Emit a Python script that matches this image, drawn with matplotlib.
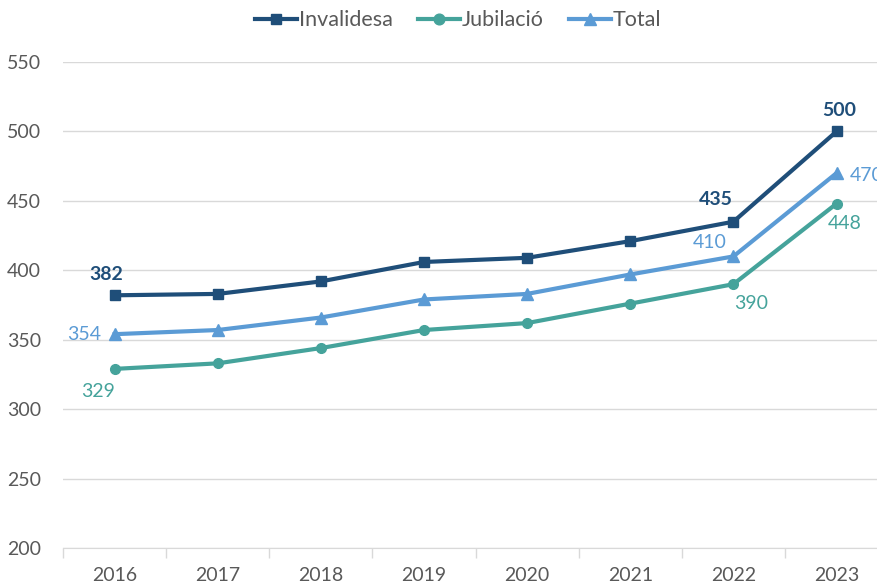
import matplotlib.pyplot as plt
import numpy as np

years = ["2016", "2017", "2018", "2019", "2020", "2021", "2022", "2023"]
invalidesa = [382, 383, 392, 406, 409, 421, 435, 500]
jubilacio = [329, 333, 344, 357, 362, 376, 390, 448]
total = [354, 357, 366, 379, 383, 397, 410, 470]

c_inv = "#1F4E79"
c_jub = "#45A39B"
c_tot = "#5B9BD5"
c_txt = "#595959"

plt.rcParams['font.family'] = ['Lato', 'DejaVu Sans']

fig = plt.figure(figsize=(8.78, 5.84), dpi=100)
ax = fig.add_axes([0.0718, 0.0616, 0.9397, 0.8322])

x = np.arange(len(years))
ax.plot(x, invalidesa, color=c_inv, lw=3, marker='s', ms=7, label="Invalidesa", zorder=3)
ax.plot(x, jubilacio, color=c_jub, lw=3, marker='o', ms=7, label="Jubilació", zorder=3)
ax.plot(x, total, color=c_tot, lw=3, marker='^', ms=8, label="Total", zorder=3)

ax.set_xlim(-0.5, len(years) - 0.5)
ax.set_ylim(200, 550)
ax.set_yticks(range(200, 551, 50))
ax.set_xticks(x)
ax.set_xticklabels(years)
ax.set_xticks(np.arange(-0.5, len(years), 1), minor=True)
ax.tick_params(axis='x', which='major', length=0, labelsize=14, labelcolor=c_txt, pad=14)
ax.tick_params(axis='x', which='minor', length=7, color="#D9D9D9", width=1)
ax.tick_params(axis='y', length=0, labelsize=14, labelcolor=c_txt, pad=16)
ax.yaxis.grid(True, color="#D9D9D9", lw=1)
ax.set_axisbelow(True)
for s in ['top', 'right', 'left']:
    ax.spines[s].set_visible(False)
ax.spines['bottom'].set_color("#D9D9D9")

# data labels (first and last two points)
def lab(i, vals, dx, dy, color, bold=False):
    ax.annotate(str(vals[i]), (x[i], vals[i]), xytext=(dx, dy), textcoords='offset points',
                ha='center', va='center', fontsize=14, color=color,
                fontweight='bold' if bold else 'normal')

lab(0, invalidesa, -6, 15, c_inv, True)
lab(6, invalidesa, -13, 16, c_inv, True)
lab(7, invalidesa, 2, 15, c_inv, True)
lab(0, total, -22, 0, c_tot)
lab(6, total, -17, 10, c_tot)
lab(7, total, 22, -2, c_tot)
lab(0, jubilacio, -12, -16, c_jub)
lab(6, jubilacio, 13, -14, c_jub)
lab(7, jubilacio, 6, -14, c_jub)

leg = ax.legend(loc='center', bbox_to_anchor=(0.479, 1.086), ncol=3, frameon=False,
                fontsize=15.5, handlelength=1.95, handletextpad=0.1, columnspacing=1.15,
                markerscale=1.1)
for t in leg.get_texts():
    t.set_color(c_txt)

fig.savefig("out.png", dpi=100)
